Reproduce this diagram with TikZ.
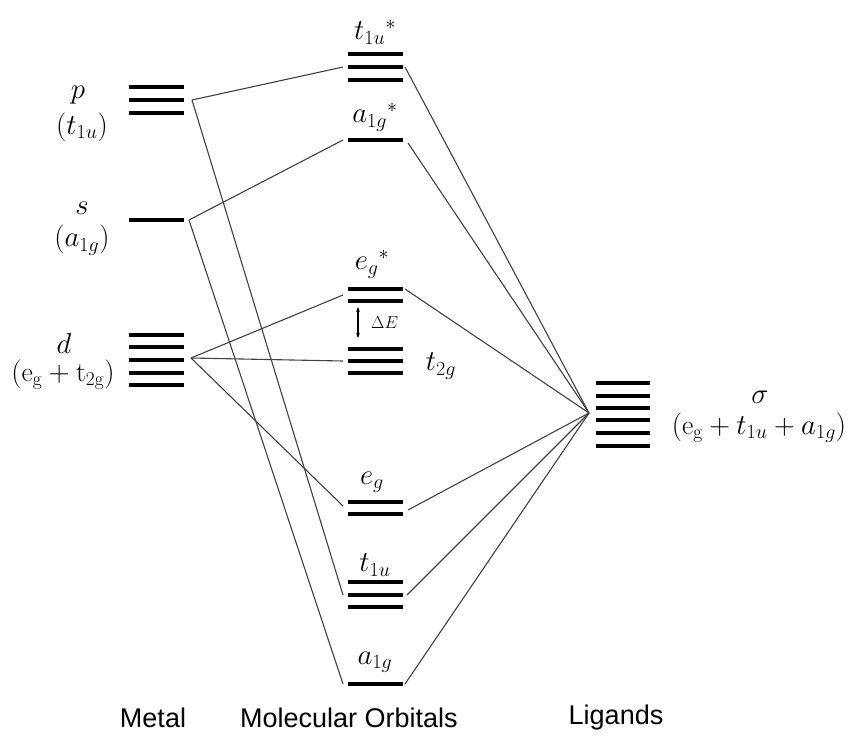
\documentclass[tikz,border=0pt]{standalone}
\usepackage{fontspec}
\setsansfont{Liberation Sans}
\usetikzlibrary{arrows.meta}
\newcommand\MOlbl[1]{\scalebox{1.16}{$#1$}}
\begin{document}
\begin{tikzpicture}[x=1pt,y=-1pt,
  lvl/.style={line width=4.5pt,black},
  conn/.style={line width=1.1pt,black!75},
  lab/.style={font=\fontsize{24}{28}\selectfont,inner sep=0pt},
  foot/.style={font=\sffamily\fontsize{27}{31}\selectfont,inner sep=0pt}]
\useasboundingbox (0,0) rectangle (850,742);
% metal levels
\foreach \y in {87,100,113} \draw[lvl] (129,\y) -- (184,\y);
\draw[lvl] (129,220) -- (184,220);
\foreach \y in {335,347,360,373,385} \draw[lvl] (129,\y) -- (184,\y);
% MO levels
\foreach \y in {54,67,80} \draw[lvl] (348,\y) -- (403,\y);
\draw[lvl] (348,140) -- (403,140);
\foreach \y in {289,301} \draw[lvl] (348,\y) -- (403,\y);
\foreach \y in {349,361,373} \draw[lvl] (348,\y) -- (403,\y);
\foreach \y in {502,514} \draw[lvl] (348,\y) -- (403,\y);
\foreach \y in {582,595,607} \draw[lvl] (348,\y) -- (403,\y);
\draw[lvl] (348,684) -- (403,684);
% ligand levels
\foreach \y in {383,396,408,420,433,446} \draw[lvl] (596,\y) -- (650,\y);
% connection points
\coordinate (mp) at (192,100);
\coordinate (ms) at (189,220);
\coordinate (md) at (191,358);
\coordinate (lig) at (589,413);
\coordinate (t1usL) at (343,67);  \coordinate (t1usR) at (405,67);
\coordinate (a1gsL) at (343,140); \coordinate (a1gsR) at (408,143);
\coordinate (egsL) at (343,295);  \coordinate (egsR) at (405,289);
\coordinate (t2gL) at (343,361);
\coordinate (egL) at (343,506);   \coordinate (egR) at (408,510);
\coordinate (t1uL) at (343,595);  \coordinate (t1uR) at (407,595);
\coordinate (a1gL) at (343,684);  \coordinate (a1gR) at (405,684);
% connectors
\draw[conn] (mp) -- (t1usL);
\draw[conn] (mp) -- (t1uL);
\draw[conn] (ms) -- (a1gsL);
\draw[conn] (ms) -- (a1gL);
\draw[conn] (md) -- (egsL);
\draw[conn] (md) -- (t2gL);
\draw[conn] (md) -- (egL);
\foreach \c in {t1usR,a1gsR,egsR,egR,t1uR,a1gR} \draw[conn] (\c) -- (lig);
% delta E arrow
\coordinate (dEtop) at (358,307);
\coordinate (dEbot) at (358,338);
\draw[line width=1.3pt,{Stealth[length=5pt]}-{Stealth[length=5pt]}] (dEtop) -- (dEbot);
\node[font=\fontsize{17}{20}\selectfont,anchor=west,inner sep=0pt] (dE) at (371,323) {$\Delta E$};
% labels
\node[lab] (lp) at (78,95) {\MOlbl{p}};
\node[lab] (lp2) at (82,127) {\MOlbl{(t_{1u})}};
\node[lab] (ls) at (82,208) {\MOlbl{s}};
\node[lab] (ls2) at (82,240) {\MOlbl{(a_{1g})}};
\node[lab] (ld) at (64,343) {\MOlbl{d}};
\node[lab] (ld2) at (63,375) {\MOlbl{(\mathrm{e_g}+\mathrm{t_{2g}})}};
\node[lab] (lt1us) at (375,32) {\MOlbl{t_{1u}{}^{*}}};
\node[lab] (la1gs) at (375,117) {\MOlbl{a_{1g}{}^{*}}};
\node[lab] (legs) at (372,264) {\MOlbl{e_{g}{}^{*}}};
\node[lab] (lt2g) at (441,366) {\MOlbl{t_{2g}}};
\node[lab] (leg) at (372,482) {\MOlbl{e_{g}}};
\node[lab] (lt1u) at (375,565) {\MOlbl{t_{1u}}};
\node[lab] (la1g) at (375,662) {\MOlbl{a_{1g}}};
\node[lab] (lsig) at (760,397) {\MOlbl{\sigma}};
\node[lab] (lsig2) at (759,428) {\MOlbl{(\mathrm{e_g}+t_{1u}+a_{1g})}};
% footer
\node[foot] (fm) at (153,718) {Metal};
\node[foot] (fmo) at (349,718) {Molecular Orbitals};
\node[foot] (fl) at (616,718) {Ligands};
\end{tikzpicture}
\end{document}
